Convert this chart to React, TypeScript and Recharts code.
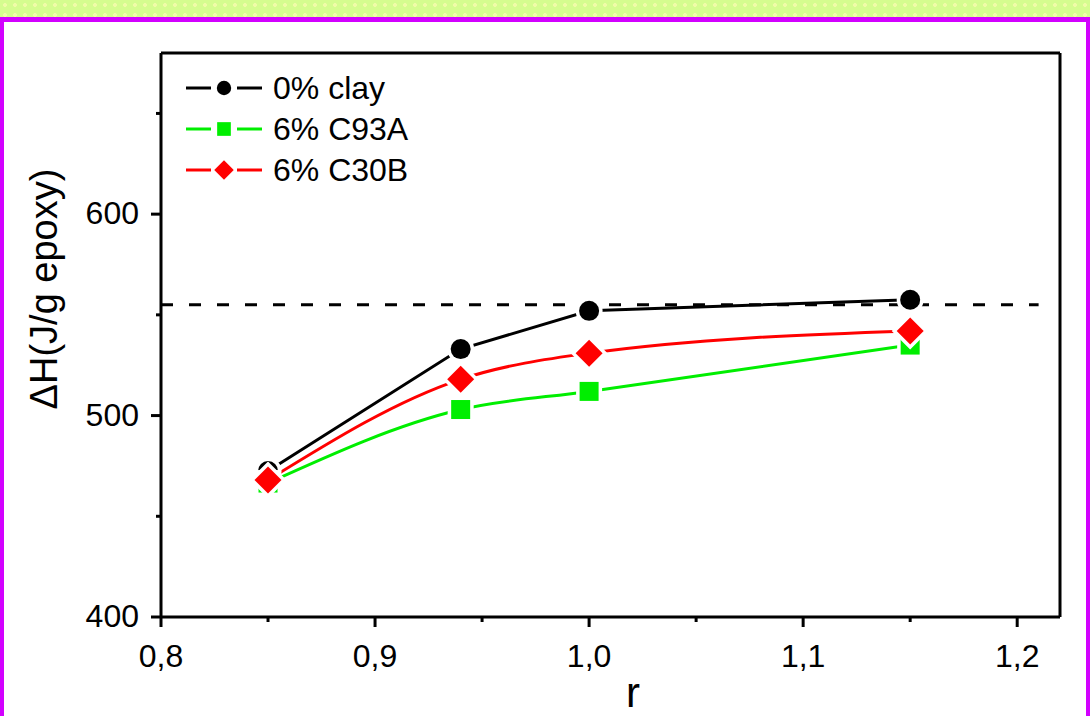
import React from "react";
import {
  Label,
  Legend,
  Line,
  LineChart,
  ReferenceLine,
  XAxis,
  YAxis,
} from "recharts";

// r = epoxy/amine stoichiometric ratio
const rValues = [0.85, 0.94, 1.0, 1.15];
const clay0 = [472.5, 533, 552, 557.5];
const c93a = [466.5, 503, 512, 535];
const c30b = [468, 518, 531, 542];

const seriesNames = ["0% clay", "6% C93A", "6% C30B"];
const seriesColors = ["#000000", "#00ee00", "#ff0000"];
const seriesMarkers = ["circle", "square", "diamond"];
const seriesCurves = ["linear", "monotone", "monotone"];

const xTicks = [0.8, 0.85, 0.9, 0.95, 1.0, 1.05, 1.1, 1.15, 1.2];
const yTicks = [400, 450, 500, 550, 600, 650];
const xDomain = [0.8, 1.22];
const yDomain = [400, 680];

const referenceLevel = 555;
const referenceSpan = [0.8, 1.21];

const FONT = '"Liberation Sans", Arial, sans-serif';

const data = rValues.map((r, i) => ({
  r,
  s0: clay0[i],
  s1: c93a[i],
  s2: c30b[i],
}));

function Marker({ kind, cx, cy, color, size = 1, gap = 7 }) {
  if (cx == null || cy == null) return null;
  const common = {
    fill: color,
    stroke: "#ffffff",
    strokeWidth: gap,
    paintOrder: "stroke",
  };
  if (kind === "circle") {
    return <circle cx={cx} cy={cy} r={10 * size} {...common} />;
  }
  if (kind === "square") {
    const h = 9.5 * size;
    return <rect x={cx - h} y={cy - h} width={2 * h} height={2 * h} {...common} />;
  }
  const d = 13.5 * size;
  return (
    <polygon
      points={`${cx},${cy - d} ${cx + d},${cy} ${cx},${cy + d} ${cx - d},${cy}`}
      {...common}
    />
  );
}

function isMajor(v, step) {
  const k = v / step;
  return Math.abs(k - Math.round(k)) < 1e-6;
}

function YTick({ x, y, payload }) {
  const major = isMajor(payload.value, 100);
  return (
    <g>
      <line x1={x} x2={x - (major ? 10 : 5)} y1={y} y2={y} stroke="#000" strokeWidth={3} />
      {major && (
        <text x={x - 22} y={y + 10} textAnchor="end" fontSize={32} fontFamily={FONT} fill="#000">
          {payload.value}
        </text>
      )}
    </g>
  );
}

function XTick({ x, y, payload }) {
  const major = isMajor(payload.value, 0.1);
  return (
    <g>
      <line x1={x} x2={x} y1={y} y2={y + (major ? 10 : 5)} stroke="#000" strokeWidth={3} />
      {major && (
        <text x={x} y={y + 50} textAnchor="middle" fontSize={32} fontFamily={FONT} fill="#000">
          {payload.value.toFixed(1).replace(".", ",")}
        </text>
      )}
    </g>
  );
}

function LegendBox() {
  return (
    <svg width={260} height={130}>
      {seriesNames.map((name, i) => {
        const cy = 23 + i * 41;
        return (
          <g key={name}>
            <line x1={6} x2={31} y1={cy} y2={cy} stroke={seriesColors[i]} strokeWidth={3} />
            <line x1={57} x2={82} y1={cy} y2={cy} stroke={seriesColors[i]} strokeWidth={3} />
            <Marker kind={seriesMarkers[i]} cx={44} cy={cy} color={seriesColors[i]} size={0.72} gap={0} />
            <text x={93} y={cy + 11} fontSize={32} fontFamily={FONT} fill="#000">
              {name}
            </text>
          </g>
        );
      })}
    </svg>
  );
}

export default function App() {
  return (
    <div
      style={{
        position: "absolute",
        left: 0,
        top: 0,
        width: 1090,
        height: 716,
        overflow: "hidden",
        backgroundColor: "#d5fc8f",
        backgroundImage: "radial-gradient(circle, #f0fba8 1.6px, transparent 2.2px)",
        backgroundSize: "10px 10px",
      }}
    >
      <div
        style={{
          position: "absolute",
          left: 0,
          top: 17,
          width: 1090,
          height: 720,
          boxSizing: "border-box",
          background: "#ffffff",
          borderTop: "5px solid #d200ff",
          borderLeft: "4px solid #d200ff",
          borderRight: "4px solid #d200ff",
        }}
      />
      <div style={{ position: "absolute", left: 0, top: 0 }}>
        <LineChart
          width={1090}
          height={716}
          data={data}
          margin={{ top: 53, right: 30, bottom: 0, left: 0 }}
        >
          <XAxis
            dataKey="r"
            type="number"
            domain={xDomain}
            ticks={xTicks}
            allowDataOverflow
            height={99}
            tickSize={0}
            tickMargin={0}
            interval={0}
            tick={<XTick />}
            axisLine={{ stroke: "#000", strokeWidth: 3 }}
          >
            <Label
              content={() => (
                <text x={633} y={707} textAnchor="middle" fontSize={42} fontFamily={FONT} fill="#000">
                  r
                </text>
              )}
            />
          </XAxis>
          <YAxis
            type="number"
            domain={yDomain}
            ticks={yTicks}
            allowDataOverflow
            width={161}
            tickSize={0}
            tickMargin={0}
            interval={0}
            tick={<YTick />}
            axisLine={{ stroke: "#000", strokeWidth: 3 }}
          >
            <Label
              content={() => (
                <text
                  x={57}
                  y={289}
                  transform="rotate(-90 57 289)"
                  textAnchor="middle"
                  fontSize={38}
                  fontFamily={FONT}
                  fill="#000"
                >
                  ΔH(J/g epoxy)
                </text>
              )}
            />
          </YAxis>
          <ReferenceLine y={yDomain[1]} stroke="#000" strokeWidth={3} />
          <ReferenceLine x={xDomain[1]} stroke="#000" strokeWidth={3} />
          <ReferenceLine
            segment={[
              { x: referenceSpan[0], y: referenceLevel },
              { x: referenceSpan[1], y: referenceLevel },
            ]}
            stroke="#000"
            strokeWidth={3}
            strokeDasharray="12 16"
          />
          {seriesNames.map((name, i) => (
            <Line
              key={name}
              name={name}
              dataKey={`s${i}`}
              type={seriesCurves[i]}
              stroke={seriesColors[i]}
              strokeWidth={3}
              isAnimationActive={false}
              dot={(p) => (
                <Marker
                  key={`${name}-${p.index}`}
                  kind={seriesMarkers[i]}
                  cx={p.cx}
                  cy={p.cy}
                  color={seriesColors[i]}
                />
              )}
              activeDot={false}
            />
          ))}
          <Legend
            layout="vertical"
            align="center"
            verticalAlign="middle"
            wrapperStyle={{ left: 180, top: 65, width: 260 }}
            content={() => <LegendBox />}
          />
        </LineChart>
      </div>
    </div>
  );
}
